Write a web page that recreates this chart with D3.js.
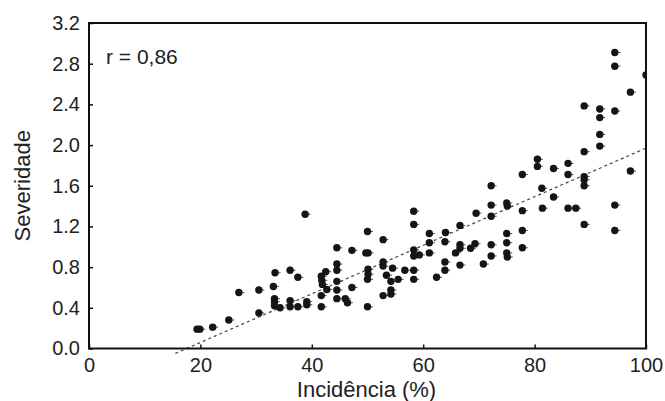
<!DOCTYPE html>
<html>
<head>
<meta charset="utf-8">
<script src="https://cdn.jsdelivr.net/npm/d3@7"></script>
<style>
  body { margin: 0; background: #fff; }
  text { font-family: "Liberation Sans", Arial, sans-serif; fill: #222; }
</style>
</head>
<body>
<svg id="chart" width="665" height="401"></svg>
<script>
// incidence (%) and severity
const incidencia = [19.4, 19.9, 22.2, 25.1, 26.9, 30.5, 30.5, 33.1, 33.4, 33.3, 33.3, 33.3, 34.3,
  36.1, 36.1, 36.1, 37.5, 37.5, 38.8, 39.1, 39.1, 41.7, 41.7, 41.7, 41.8, 41.9, 42.5, 42.7,
  44.5, 44.5, 44.5, 44.5, 44.5, 44.5, 46.0, 46.4, 47.2, 47.2, 50.0, 49.7, 50.1, 50.1, 50.1,
  50.0, 50.0, 52.8, 52.8, 52.8, 52.8, 53.4, 54.2, 54.2, 54.2, 54.5, 55.5, 56.7, 58.3, 58.3,
  58.3, 58.3, 59.3, 58.3, 58.3, 61.1, 61.1, 61.1, 62.4, 64.0, 63.9, 63.9, 63.9, 66.6, 66.6,
  66.6, 65.8, 66.6, 68.5, 69.3, 69.5, 70.8, 72.2, 72.2, 72.2, 72.2, 72.2, 75.0, 75.1, 75.0,
  75.0, 75.0, 75.1, 77.8, 77.8, 77.8, 77.8, 80.5, 80.5, 81.3, 81.4, 83.4, 83.4, 86.0, 86.0,
  86.0, 87.4, 88.9, 88.9, 88.9, 88.9, 88.9, 88.9, 91.7, 91.7, 91.7, 91.7, 94.4, 94.4, 94.4,
  94.4, 94.4, 97.2, 97.2, 100];
const severidade = [0.19, 0.19, 0.21, 0.28, 0.55, 0.35, 0.575, 0.61, 0.745, 0.49, 0.46, 0.42, 0.40,
  0.77, 0.47, 0.41, 0.70, 0.41, 1.32, 0.46, 0.43, 0.41, 0.52, 0.71, 0.67, 0.63, 0.755, 0.58,
  0.99, 0.83, 0.77, 0.66, 0.575, 0.49, 0.49, 0.45, 0.965, 0.60, 1.15, 0.94, 0.94, 0.78, 0.73,
  0.68, 0.41, 1.07, 0.85, 0.81, 0.52, 0.72, 0.66, 0.575, 0.535, 0.79, 0.68, 0.77, 1.35, 1.22,
  0.97, 0.91, 0.92, 0.77, 0.68, 1.13, 1.04, 0.94, 0.70, 1.14, 1.05, 0.85, 0.77, 1.21, 1.02,
  0.985, 0.94, 0.82, 0.985, 1.03, 1.33, 0.83, 1.60, 1.41, 1.30, 1.02, 0.91, 1.43, 1.40, 1.13,
  1.04, 0.94, 0.90, 1.71, 1.355, 1.16, 0.99, 1.86, 1.79, 1.575, 1.38, 1.77, 1.49, 1.82, 1.71,
  1.38, 1.38, 2.385, 1.935, 1.69, 1.66, 1.60, 1.22, 2.355, 2.27, 2.105, 1.99, 2.91, 2.775, 2.335,
  1.41, 1.16, 2.52, 1.745, 2.69];

// fitted line end points
const fitX = [15.5, 100];
const fitY = [-0.048, 1.97];

const xTicks = [0, 20, 40, 60, 80, 100];
const yTicks = [0, 0.4, 0.8, 1.2, 1.6, 2.0, 2.4, 2.8, 3.2];

const margin = { top: 23, right: 19, bottom: 52.5, left: 89 };
const width = 665 - margin.left - margin.right,
      height = 401 - margin.top - margin.bottom;

const svg = d3.select("#chart");
const g = svg.append("g").attr("transform", "translate(" + margin.left + "," + margin.top + ")");

const x = d3.scaleLinear().domain([0, 100]).range([0, width]);
const y = d3.scaleLinear().domain([0, 3.2]).range([height, 0]);

// clip for the marks
svg.append("defs").append("clipPath").attr("id", "clip")
  .append("rect").attr("x", -4).attr("y", -4).attr("width", width + 4).attr("height", height + 14);

// regression line
g.append("path")
  .datum(fitX.map((d, i) => [d, fitY[i]]))
  .attr("d", d3.line().x(d => x(d[0])).y(d => y(d[1])))
  .attr("fill", "none")
  .attr("stroke", "#444")
  .attr("stroke-width", 1.2)
  .attr("stroke-dasharray", "3,3");

// points
const pts = g.append("g").attr("clip-path", "url(#clip)");
const data = incidencia.map((d, i) => ({ x: d, y: severidade[i] }));
pts.selectAll("line.stub")
  .data(data)
  .enter().append("line")
  .attr("class", "stub")
  .attr("x1", d => x(d.x) + 2)
  .attr("x2", d => x(d.x) + 5.5)
  .attr("y1", d => y(d.y))
  .attr("y2", d => y(d.y))
  .attr("stroke", "#555")
  .attr("stroke-width", 1);
pts.selectAll("circle")
  .data(data)
  .enter().append("circle")
  .attr("cx", d => x(d.x))
  .attr("cy", d => y(d.y))
  .attr("r", 3.7)
  .style("fill", "#151515");

// axes
const xAxis = d3.axisBottom(x).tickValues(xTicks).tickSize(-4).tickPadding(9)
  .tickFormat(d3.format("d"));
const yAxis = d3.axisLeft(y).tickValues(yTicks).tickSize(-4).tickPadding(9)
  .tickFormat(d3.format(".1f"));

const gx = g.append("g").attr("transform", "translate(0," + height + ")").call(xAxis);
const gy = g.append("g").call(yAxis);
[gx, gy].forEach(a => {
  a.select(".domain").remove();
  a.selectAll(".tick line").attr("stroke", "#111").attr("stroke-width", 1.5);
  a.selectAll("text").style("font-size", "20px").style("fill", "#222");
});

// frame
g.append("rect")
  .attr("width", width).attr("height", height)
  .attr("fill", "none").attr("stroke", "#111").attr("stroke-width", 2);

// titles
g.append("text")
  .attr("x", width / 2 - 1).attr("y", height + 48)
  .attr("text-anchor", "middle")
  .style("font-size", "22px")
  .text("Incidência (%)");

g.append("text")
  .attr("transform", "translate(" + (-59) + "," + (height / 2) + ") rotate(-90)")
  .attr("text-anchor", "middle")
  .style("font-size", "22px")
  .text("Severidade");

g.append("text")
  .attr("x", 17).attr("y", 41)
  .style("font-size", "21px")
  .text("r = 0,86");
</script>
</body>
</html>
